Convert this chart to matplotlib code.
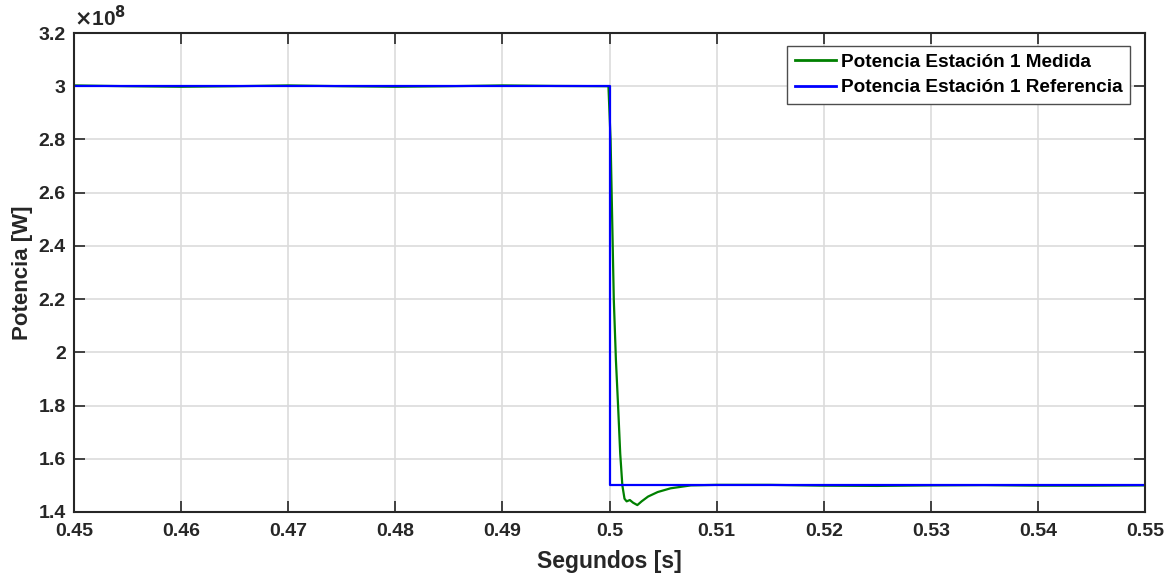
import matplotlib.pyplot as plt
from matplotlib.ticker import FuncFormatter

plt.rcParams['font.family'] = ['Liberation Sans', 'DejaVu Sans']
plt.rcParams['font.weight'] = 'bold'

# referencia de potencia (escalon en 0.5 s)
t_ref = [0.45, 0.5, 0.5, 0.55]
p_ref = [3.0e8, 3.0e8, 1.5e8, 1.5e8]

# potencia medida
t_med = [0.45, 0.455, 0.46, 0.465, 0.47, 0.475, 0.48, 0.485, 0.49, 0.495, 0.4999,
         0.5001, 0.5002, 0.5004, 0.5006, 0.5008, 0.501, 0.5012, 0.5014, 0.5016,
         0.5019, 0.5022, 0.5026, 0.503, 0.5036, 0.5045, 0.5057, 0.5076, 0.51,
         0.515, 0.52, 0.525, 0.53, 0.535, 0.54, 0.545, 0.55]
p_med = [3.003e8, 3.0e8, 2.998e8, 3.0e8, 3.003e8, 3.0e8, 2.998e8, 3.0e8, 3.003e8, 3.001e8, 3.0e8,
         2.8e8, 2.6e8, 2.2e8, 1.97e8, 1.8e8, 1.62e8, 1.5e8, 1.45e8, 1.44e8,
         1.445e8, 1.435e8, 1.426e8, 1.44e8, 1.458e8, 1.475e8, 1.489e8, 1.5e8, 1.502e8,
         1.502e8, 1.499e8, 1.498e8, 1.5e8, 1.501e8, 1.499e8, 1.499e8, 1.5e8]

x_ticks = [0.45, 0.46, 0.47, 0.48, 0.49, 0.5, 0.51, 0.52, 0.53, 0.54, 0.55]
y_ticks = [1.4e8, 1.6e8, 1.8e8, 2.0e8, 2.2e8, 2.4e8, 2.6e8, 2.8e8, 3.0e8, 3.2e8]

dark = (0.15, 0.15, 0.15)

fig = plt.figure(figsize=(11.71, 5.78), dpi=100)
ax = fig.add_axes([74 / 1171, 1 - 512 / 578, (1145 - 74) / 1171, (512 - 33) / 578])

ax.plot(t_med, p_med, color=(0.0, 0.5, 0.0), linewidth=1.6, label='Potencia Estación 1 Medida')
ax.plot(t_ref, p_ref, color=(0.0, 0.0, 1.0), linewidth=1.6, label='Potencia Estación 1 Referencia')

ax.set_xlim(0.45, 0.55)
ax.set_ylim(1.4e8, 3.2e8)
ax.set_xticks(x_ticks)
ax.set_yticks(y_ticks)
ax.xaxis.set_major_formatter(FuncFormatter(lambda v, p: '%g' % round(v, 4)))
ax.yaxis.set_major_formatter(FuncFormatter(lambda v, p: '%g' % round(v / 1e8, 4)))
ax.tick_params(direction='in', length=8, width=1.2, top=True, right=True,
               labelsize=14, colors=dark)
ax.tick_params(axis='x', pad=8)
ax.tick_params(axis='y', pad=6)
for lab in ax.get_xticklabels() + ax.get_yticklabels():
    lab.set_fontweight('bold')
for s in ax.spines.values():
    s.set_color(dark)
    s.set_linewidth(1.5)
ax.grid(True, color=(0.86, 0.86, 0.86), linewidth=1.2)
ax.set_axisbelow(True)

ax.text(0.0, 1.006, r'$\times$10$^{8}$', transform=ax.transAxes, fontsize=15,
        fontweight='bold', color=dark, ha='left', va='bottom')

ax.set_xlabel('Segundos [s]', fontsize=16.5, fontweight='bold', color=dark, labelpad=7)
ax.set_ylabel('Potencia [W]', fontsize=16, fontweight='bold', color=dark, labelpad=4)

leg = ax.legend(loc='upper right', bbox_to_anchor=(0.986, 0.973), fontsize=13.7, fancybox=False,
                framealpha=1, edgecolor=(0.3, 0.3, 0.3), handlelength=2.15, handletextpad=0.25,
                borderpad=0.4, labelspacing=0.42, borderaxespad=0)
leg.get_frame().set_linewidth(1.0)
for line in leg.get_lines():
    line.set_linewidth(2.0)
for t in leg.get_texts():
    t.set_fontweight('bold')

fig.savefig('out.png', dpi=100)
